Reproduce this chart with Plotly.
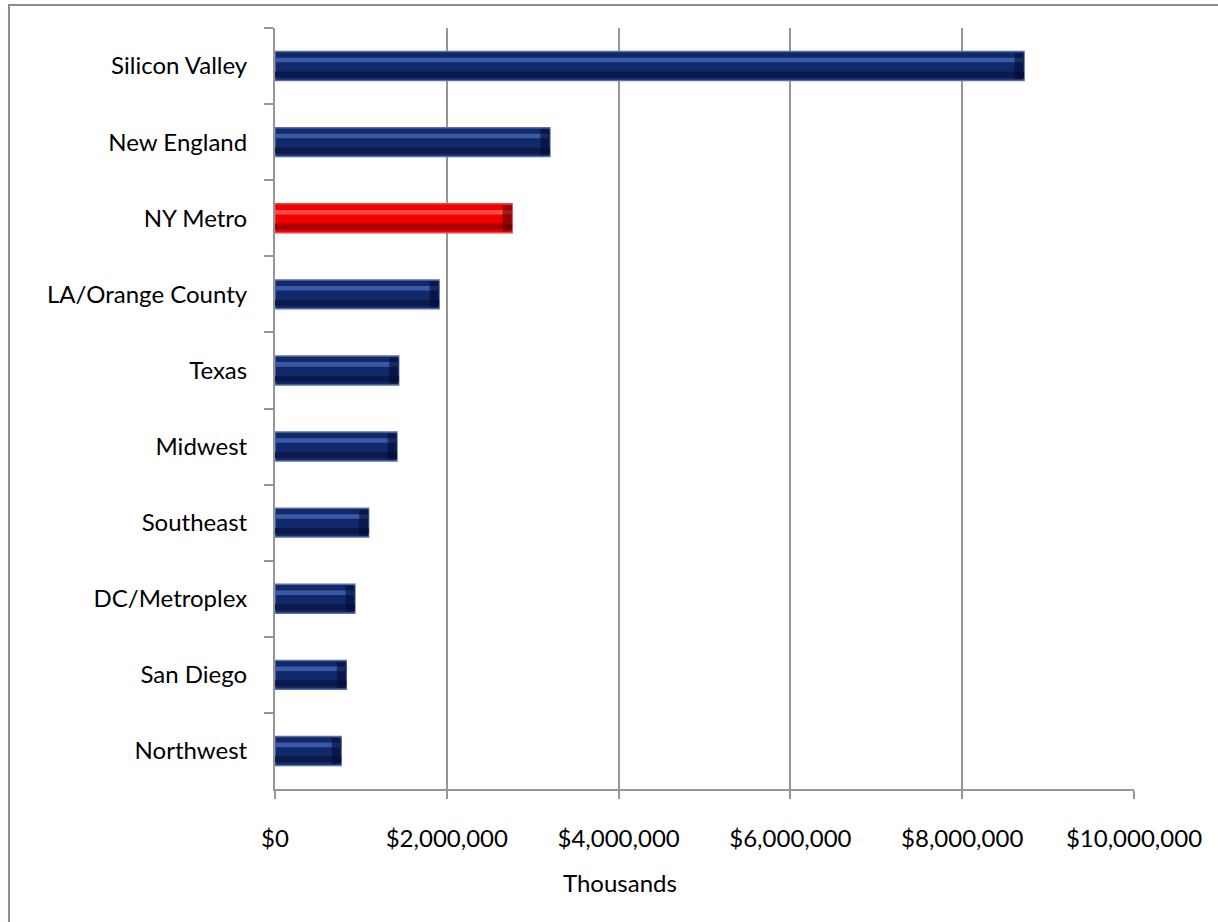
import plotly.graph_objects as go

# Regional totals (in thousands of dollars)
regions = ["Silicon Valley", "New England", "NY Metro", "LA/Orange County", "Texas",
           "Midwest", "Southeast", "DC/Metroplex", "San Diego", "Northwest"]
values = [8720000, 3200000, 2760000, 1910000, 1440000,
          1420000, 1090000, 930000, 830000, 770000]
highlight_region = "NY Metro"

x_ticks = [0, 2000000, 4000000, 6000000, 8000000, 10000000]
x_tick_labels = ["$0", "$2,000,000", "$4,000,000", "$6,000,000", "$8,000,000", "$10,000,000"]

# Bevel palette: (body, top stripe, bottom shade, rim, end cap)
navy = ("#11296c", "#3a5ba3", "#0b1a48", "#5b6f9e", "#020c36")
red = ("#f20000", "#ff4a4a", "#a80000", "#e04646", "#5a0000")
pal = [red if r == highlight_region else navy for r in regions]

BAR_W = 0.38
grid = "#969696"
font = dict(family="Lato, 'Open Sans', sans-serif", size=24, color="#000000")

fig = go.Figure()

# main bar body
fig.add_trace(go.Bar(
    y=regions, x=values, orientation="h", width=BAR_W,
    marker=dict(color=[p[0] for p in pal], line=dict(color=[p[3] for p in pal], width=1.5)),
    hoverinfo="x+y",
))
# lower shaded band
fig.add_trace(go.Bar(
    y=regions, x=values, orientation="h", width=0.08, offset=0.07,
    marker=dict(color=[p[2] for p in pal], line=dict(width=0)), hoverinfo="skip",
))
# upper highlight stripe
fig.add_trace(go.Bar(
    y=regions, x=values, orientation="h", width=0.06, offset=-0.11,
    marker=dict(color=[p[1] for p in pal], line=dict(width=0)), hoverinfo="skip",
))
# darker rounded end at the right of each bar
cap = 110000
fig.add_trace(go.Bar(
    y=regions, x=[cap] * len(values), base=[v - cap for v in values], orientation="h",
    width=BAR_W - 0.04, offset=-(BAR_W - 0.04) / 2,
    marker=dict(color=[p[4] for p in pal], opacity=0.6, line=dict(width=0)), hoverinfo="skip",
))

fig.update_layout(
    width=1218, height=922,
    margin=dict(l=275, r=84, t=28, b=133),
    paper_bgcolor="white", plot_bgcolor="white",
    barmode="overlay", showlegend=False,
    font=font,
    xaxis=dict(
        range=[0, 10000000], tickvals=x_ticks, ticktext=x_tick_labels,
        showgrid=True, gridcolor=grid, gridwidth=2, zeroline=False,
        showline=True, linecolor=grid, linewidth=2,
        ticks="outside", ticklen=8, tickwidth=2, tickcolor=grid,
        ticklabelstandoff=19, tickfont=font,
    ),
    yaxis=dict(
        autorange="reversed", showgrid=False, zeroline=False,
        showline=True, linecolor=grid, linewidth=2,
        ticks="outside", tickson="boundaries", ticklen=9, tickwidth=2, tickcolor=grid,
        ticklabelstandoff=21, tickfont=font,
    ),
    annotations=[dict(
        text="Thousands", xref="paper", yref="paper", x=0.4016, y=-0.1235,
        xanchor="center", yanchor="middle", showarrow=False, font=font,
    )],
    shapes=[dict(
        type="rect", xref="paper", yref="paper",
        x0=-0.3097, x1=1.3, y0=-0.3, y1=1.0302,
        line=dict(color="#8c8c8c", width=2), fillcolor="rgba(0,0,0,0)", layer="below",
    )],
)

fig.write_html("out.html")
